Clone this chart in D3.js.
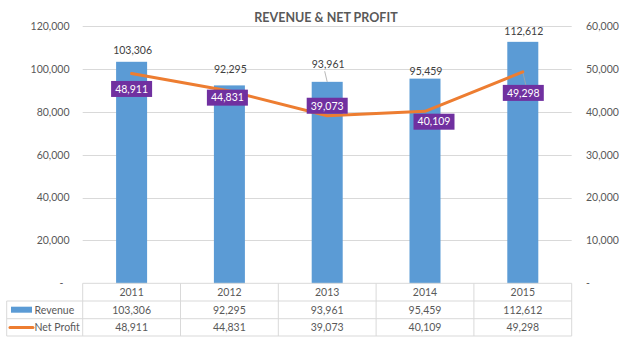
<!DOCTYPE html>
<html><head><meta charset="utf-8">
<script src="https://cdn.jsdelivr.net/npm/d3@7"></script>
<style>
html,body{margin:0;padding:0;background:#fff;}
svg text{font-family:Lato,"Open Sans",sans-serif;}
</style></head>
<body><svg id="c" width="626" height="341"></svg>
<script>
const years = ["2011","2012","2013","2014","2015"];
const revenue = [103306, 92295, 93961, 95459, 112612];
const netProfit = [48911, 44831, 39073, 40109, 49298];
const leftTicks = [0, 20000, 40000, 60000, 80000, 100000, 120000];
const rightTicks = [0, 10000, 20000, 30000, 40000, 50000, 60000];
const title = "REVENUE & NET PROFIT";
const seriesNames = ["Revenue", "Net Profit"];
// label placement offsets (style only)
const revLabelDy = [-11, -16, -17.6, -7, -11];
const npLabelOff = [[0,15.4],[-2,6.6],[0,-10],[9,10.4],[0.5,21]];

const svg = d3.select("#c");
const grey = "#595959", gridC = "#D9D9D9", blue = "#5B9BD5", orange = "#ED7D31", purple = "#7030A0";
const fmt = d3.format(",");
const x = d3.scaleBand().domain(years).range([82.7, 571.7]).padding(0);
const yL = d3.scaleLinear().domain([0, 120000]).range([283.3, 26]);
const yR = d3.scaleLinear().domain([0, 60000]).range([283.3, 26]);
const bw = x.bandwidth() * 0.317;
const cx = d => x(d) + x.bandwidth() / 2;

// title
svg.append("text").attr("x", 326).attr("y", 21.5).attr("text-anchor", "middle")
  .attr("fill", grey).attr("font-weight", "bold").attr("font-size", 12.5).text(title);

// gridlines
svg.append("g").selectAll("line").data(leftTicks.slice(1)).join("line")
  .attr("x1", 82.7).attr("x2", 571.7).attr("y1", d => Math.round(yL(d)) + 0.5).attr("y2", d => Math.round(yL(d)) + 0.5)
  .attr("stroke", gridC).attr("stroke-width", 1);

// left axis
const axL = d3.axisLeft(yL).tickValues(leftTicks).tickSize(0).tickPadding(0)
  .tickFormat(d => d === 0 ? "-" : fmt(d));
const gL = svg.append("g").attr("transform", "translate(69.5,0)").call(axL);
gL.select(".domain").remove();
gL.selectAll("text").attr("fill", grey).attr("font-size", 10.5).style("font-family", "Lato")
  .attr("dx", d => d === 0 ? -6 : 0);

// right axis
const axR = d3.axisRight(yR).tickValues(rightTicks).tickSize(0).tickPadding(0)
  .tickFormat(d => d === 0 ? "-" : fmt(d));
const gR = svg.append("g").attr("transform", "translate(586,0)").call(axR);
gR.select(".domain").remove();
gR.selectAll("text").attr("fill", grey).attr("font-size", 10.5).style("font-family", "Lato");

// bars
svg.append("g").selectAll("rect").data(years).join("rect")
  .attr("x", d => cx(d) - bw / 2).attr("width", bw)
  .attr("y", (d, i) => yL(revenue[i])).attr("height", (d, i) => yL(0) - yL(revenue[i]))
  .attr("fill", blue);

// leader lines
svg.append("line").attr("x1", cx("2013") - 2.5).attr("y1", yL(revenue[2]) + revLabelDy[2] + 7)
  .attr("x2", cx("2013")).attr("y2", yL(revenue[2])).attr("stroke", "#A6A6A6").attr("stroke-width", 0.8);
svg.append("line").attr("x1", cx("2015")).attr("y1", yR(netProfit[4]))
  .attr("x2", cx("2015") + 3).attr("y2", yR(netProfit[4]) + npLabelOff[4][1] - 8)
  .attr("stroke", "#A6A6A6").attr("stroke-width", 0.8);

// line
const line = d3.line().x((d, i) => cx(years[i])).y(d => yR(d));
svg.append("path").datum(netProfit).attr("d", line).attr("fill", "none")
  .attr("stroke", orange).attr("stroke-width", 3).attr("stroke-linejoin", "round").attr("stroke-linecap", "round");

// revenue labels
svg.append("g").selectAll("text").data(years).join("text")
  .attr("x", d => cx(d) + 1).attr("y", (d, i) => yL(revenue[i]) + revLabelDy[i])
  .attr("dy", "0.35em").attr("text-anchor", "middle").attr("fill", "#404040").attr("font-size", 10.5)
  .text((d, i) => fmt(revenue[i]));

// net profit labels
const npG = svg.append("g").selectAll("g").data(years).join("g")
  .attr("transform", (d, i) => `translate(${cx(d) + npLabelOff[i][0]},${yR(netProfit[i]) + npLabelOff[i][1]})`);
npG.append("rect").attr("x", -20.5).attr("y", -8).attr("width", 41).attr("height", 16).attr("fill", purple);
npG.append("text").attr("text-anchor", "middle").attr("dy", "0.36em").attr("fill", "#fff")
  .attr("font-size", 10.5).text((d, i) => fmt(netProfit[i]));

// data table
const rowY = [283.3, 301, 318.7, 336];
const tb = svg.append("g").attr("stroke", gridC).attr("stroke-width", 1).attr("fill", "none");
tb.append("line").attr("x1", 82.7).attr("x2", 571.7).attr("y1", rowY[0]).attr("y2", rowY[0]);
[1, 2, 3].forEach(r => tb.append("line").attr("x1", 6.7).attr("x2", 571.7).attr("y1", rowY[r]).attr("y2", rowY[r]));
tb.append("line").attr("x1", 6.7).attr("x2", 6.7).attr("y1", rowY[1]).attr("y2", rowY[3]);
tb.selectAll(".v").data(years.concat(["end"])).join("line").attr("class", "v")
  .attr("x1", d => d === "end" ? 571.7 : x(d)).attr("x2", d => d === "end" ? 571.7 : x(d))
  .attr("y1", rowY[0]).attr("y2", rowY[3]);

const rows = [years, revenue.map(fmt), netProfit.map(fmt)];
rows.forEach((vals, r) => {
  svg.append("g").selectAll("text").data(vals).join("text")
    .attr("x", (d, i) => cx(years[i])).attr("y", (rowY[r] + rowY[r + 1]) / 2)
    .attr("dy", "0.35em").attr("text-anchor", "middle").attr("fill", grey).attr("font-size", 10.5).text(d => d);
});

// legend keys
svg.append("rect").attr("x", 11).attr("y", 306.7).attr("width", 21).attr("height", 6).attr("fill", blue);
svg.append("line").attr("x1", 10).attr("x2", 33).attr("y1", 327.4).attr("y2", 327.4)
  .attr("stroke", orange).attr("stroke-width", 3).attr("stroke-linecap", "round");
seriesNames.forEach((n, k) => {
  svg.append("text").attr("x", 34.5).attr("y", (rowY[k + 1] + rowY[k + 2]) / 2).attr("dy", "0.35em")
    .attr("fill", grey).attr("font-size", 10.5).text(n);
});
</script></body></html>
